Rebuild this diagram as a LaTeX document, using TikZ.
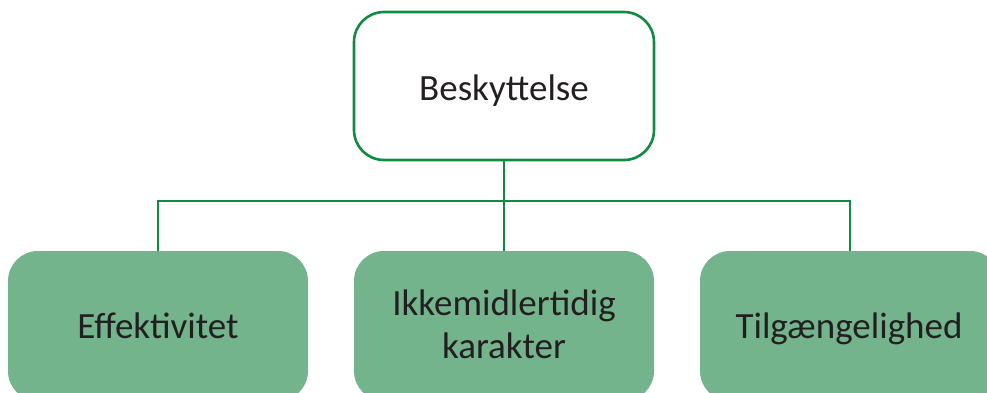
\documentclass[tikz,border=0pt]{standalone}
\usepackage{fontspec}
\setmainfont{Carlito}
\definecolor{lineg}{RGB}{16,140,64}
\definecolor{fillg}{RGB}{115,180,141}
\definecolor{txt}{RGB}{35,31,32}
\begin{document}
\begin{tikzpicture}[x=1pt,y=-1pt,
  topbox/.style={draw=lineg,line width=2.6pt,fill=white,rounded corners=30pt,minimum width=300pt,minimum height=148pt,inner sep=0pt,outer sep=0pt,anchor=north west},
  botbox/.style={fill=fillg,draw=none,rounded corners=30pt,minimum width=300pt,minimum height=150pt,inner sep=0pt,outer sep=0pt,anchor=north west},
  lbl/.style={text=txt,font=\fontsize{37}{43}\selectfont,align=center,anchor=base,inner sep=0pt},
  conn/.style={draw=lineg,line width=2.6pt}]
\useasboundingbox (0,0) rectangle (987,392);
\begin{scope}
\clip (0,0) rectangle (987,392);
\node[topbox] (top) at (354,12) {};
\node[botbox] (b1) at (8,251) {};
\node[botbox] (b2) at (354,251) {};
\node[botbox] (b3) at (700,251) {};
\coordinate (j) at (504,201);
\draw[conn] (top.south) -- (j);
\draw[conn] (j) -| (b1.north);
\draw[conn] (j) -| (b3.north);
\draw[conn] (j) -- (b2.north);
\node[lbl] (t0) at (504,100) {Beskyttelse};
\node[lbl] (t1) at (158,338) {Effektivitet};
\node[lbl] (t2a) at (504,315) {Ikkemidlertidig};
\node[lbl] (t2b) at (504,358) {karakter};
\node[lbl] (t3) at (849,338) {Tilgængelighed};
\end{scope}
\end{tikzpicture}
\end{document}
